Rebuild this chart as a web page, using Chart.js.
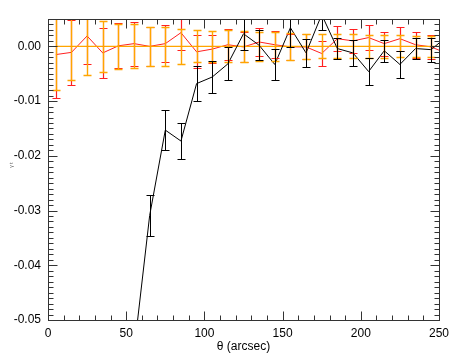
<!DOCTYPE html>
<html>
<head>
<meta charset="utf-8">
<script src="https://cdn.jsdelivr.net/npm/chart.js@4"></script>
<style>
  body { margin: 0; background: #fff; }
  canvas { display: block; }
</style>
</head>
<body>
<canvas id="chart" width="463" height="358"></canvas>
<script>
// theta bins (arcsec); last one lies outside the axis so the lines run to the edge
const thetas = [5, 15, 25, 35, 45, 55, 65, 75, 85, 95, 105, 115, 125, 135, 145, 155, 165, 175, 185, 195, 205, 215, 225, 235, 245, 255];

const orangeY = [0, 0, 0, 0, 0, 0, 0, 0, 0, 0, 0, 0, 0, 0, 0, 0, 0, 0, 0, 0, 0, 0, 0, 0, 0, 0];
const orangeErr = [0.008, 0.0062, 0.0053, 0.0046, 0.0041, 0.004, 0.0036, 0.0035, 0.0032, 0.0029, 0.0028, 0.0029, 0.0028, 0.0027, 0.0026, 0.0025, 0.0023, 0.0022, 0.0022, 0.0022, 0.0021, 0.0021, 0.002, 0.0019, 0.0019, null];

const redY = [-0.0015, -0.0011, 0.0019, -0.0012, 0.0001, 0.0005, 0.0, 0.0005, 0.0025, -0.001, -0.0005, 0.0003, -0.0001, 0.0008, 0.0003, -0.0001, -0.0001, -0.0013, 0.0014, 0.001, 0.0016, 0.0005, 0.0014, 0.0003, -0.0001, -0.0013];
const redErr = [0.008, 0.006, 0.0052, 0.0046, 0.0041, 0.004, 0.0036, 0.0034, 0.0032, 0.003, 0.0026, 0.0028, 0.0028, 0.0026, 0.0025, 0.0024, 0.0023, 0.0022, 0.0023, 0.0022, 0.0023, 0.0022, 0.0022, 0.0024, 0.0022, null];

// black series starts at 55 (below the axis)
const blackTheta = [55, 65, 75, 85, 95, 105, 115, 125, 135, 145, 155, 165, 175, 185, 195, 205, 215, 225, 235, 245, 255];
const blackY = [-0.0557, -0.0309, -0.0153, -0.0173, -0.0068, -0.0056, -0.0032, 0.0023, 0.0002, -0.0033, 0.0034, -0.0012, 0.0058, -0.0004, -0.0012, -0.0046, -0.0008, -0.0033, -0.0004, -0.0006, 0.0018];
const blackErr = [0.004, 0.0037, 0.0036, 0.0033, 0.0032, 0.003, 0.003, 0.003, 0.0027, 0.0029, 0.0035, 0.0025, 0.0028, 0.002, 0.0024, 0.0024, 0.002, 0.0025, 0.002, 0.0022, null];

const xTicks = [0, 50, 100, 150, 200, 250];
const yTicks = [-0.05, -0.04, -0.03, -0.02, -0.01, 0.0];

const FONT = '"Liberation Sans", Arial, Helvetica, sans-serif';
const ORANGE = '#ffa500';
const RED = '#ff2020';

const pts = (xs, ys) => xs.map((x, i) => ({ x: x, y: ys[i] }));

const errorBars = {
  id: 'errorBars',
  afterDatasetsDraw(chart) {
    const { ctx, chartArea, scales } = chart;
    ctx.save();
    ctx.beginPath();
    ctx.rect(chartArea.left, chartArea.top, chartArea.right - chartArea.left, chartArea.bottom - chartArea.top);
    ctx.clip();
    const sets = [
      [thetas, redY, redErr, RED, 1.2],
      [thetas, orangeY, orangeErr, ORANGE, 1.4],
      [blackTheta, blackY, blackErr, '#000', 1]
    ];
    sets.forEach(([xs, ys, es, color, w]) => {
      ctx.strokeStyle = color;
      ctx.lineWidth = w;
      xs.forEach((x, i) => {
        if (es[i] == null) return;
        const px = Math.round(scales.x.getPixelForValue(x)) + 0.5;
        const top = Math.round(scales.y.getPixelForValue(ys[i] + es[i])) + 0.5;
        const bot = Math.round(scales.y.getPixelForValue(ys[i] - es[i])) + 0.5;
        ctx.beginPath();
        ctx.moveTo(px, top); ctx.lineTo(px, bot);
        ctx.moveTo(px - 4, top); ctx.lineTo(px + 4, top);
        ctx.moveTo(px - 4, bot); ctx.lineTo(px + 4, bot);
        ctx.stroke();
      });
    });
    ctx.restore();
  }
};

const frameTicks = {
  id: 'frameTicks',
  afterDraw(chart) {
    const { ctx, chartArea: a, scales } = chart;
    ctx.save();
    ctx.strokeStyle = '#333';
    ctx.lineWidth = 1;
    const L = Math.round(a.left) + 0.5, R = Math.round(a.right) + 0.5;
    const T = Math.round(a.top) + 0.5, B = Math.round(a.bottom) + 0.5;
    ctx.strokeRect(L, T, R - L, B - T);
    ctx.beginPath();
    for (let v = 0; v <= 250; v += 10) {
      const len = v % 50 === 0 ? 9 : 5;
      const px = Math.round(scales.x.getPixelForValue(v)) + 0.5;
      ctx.moveTo(px, B); ctx.lineTo(px, B - len);
      ctx.moveTo(px, T); ctx.lineTo(px, T + len);
    }
    for (let k = -50; k <= 5; k++) {
      const len = k % 10 === 0 ? 9 : 5;
      const py = Math.round(scales.y.getPixelForValue(k / 1000)) + 0.5;
      ctx.moveTo(L, py); ctx.lineTo(L + len, py);
      ctx.moveTo(R, py); ctx.lineTo(R - len, py);
    }
    ctx.stroke();
    // tiny y-axis label
    ctx.translate(12, 165);
    ctx.rotate(-Math.PI / 2);
    ctx.fillStyle = '#555';
    ctx.font = '5px ' + FONT;
    ctx.textAlign = 'center';
    ctx.textBaseline = 'middle';
    ctx.fillText('γ t', 0, 0);
    ctx.restore();
  }
};

new Chart(document.getElementById('chart'), {
  type: 'line',
  data: {
    datasets: [
      { data: pts(blackTheta, blackY), borderColor: '#000', borderWidth: 1, pointRadius: 0, order: 0 },
      { data: pts(thetas, orangeY), borderColor: ORANGE, borderWidth: 1.2, pointRadius: 0, order: 1 },
      { data: pts(thetas, redY), borderColor: RED, borderWidth: 1, pointRadius: 0, order: 2 }
    ]
  },
  options: {
    responsive: false,
    animation: false,
    layout: { padding: { top: 19, right: 24, left: 0, bottom: 0 } },
    plugins: { legend: { display: false }, tooltip: { enabled: false } },
    scales: {
      x: {
        type: 'linear',
        min: 0,
        max: 250,
        grid: { display: false, drawTicks: false },
        border: { display: false },
        afterBuildTicks: s => { s.ticks = xTicks.map(v => ({ value: v })); },
        afterFit: s => { s.height = 38; },
        ticks: { color: '#000', font: { family: FONT, size: 12 }, padding: 6, maxRotation: 0 },
        title: { display: true, text: 'θ (arcsec)', color: '#000', font: { family: FONT, size: 12 }, padding: { top: 0, bottom: 4 } }
      },
      y: {
        min: -0.05,
        max: 0.005,
        grid: { display: false, drawTicks: false },
        border: { display: false },
        afterBuildTicks: s => { s.ticks = yTicks.map(v => ({ value: v })); },
        afterFit: s => { s.width = 48; },
        ticks: { color: '#000', font: { family: FONT, size: 12 }, padding: 7, callback: v => v.toFixed(2) }
      }
    }
  },
  plugins: [errorBars, frameTicks]
});
</script>
</body>
</html>
